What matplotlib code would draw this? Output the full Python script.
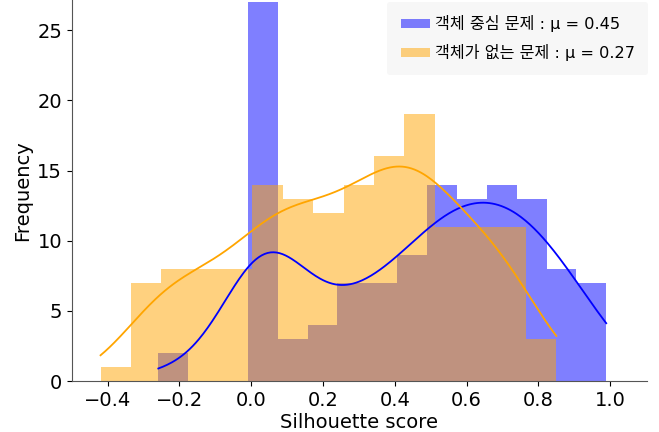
import matplotlib
matplotlib.use('Agg')
import matplotlib.pyplot as plt
import numpy as np

plt.rcParams['font.family'] = ['DejaVu Sans', 'Noto Sans CJK KR']

# histogram of silhouette scores, 15 bins each
obj_lo, obj_hi = -0.259, 0.989
obj_counts = [2, 0, 0, 27, 3, 4, 7, 7, 9, 14, 13, 14, 13, 8, 7]
none_lo, none_hi = -0.420, 0.850
none_counts = [1, 7, 8, 8, 8, 14, 13, 12, 14, 16, 19, 11, 11, 11, 3]

labels = ['객체 중심 문제 : μ = 0.45', '객체가 없는 문제 : μ = 0.27']
colors = ['blue', 'orange']


def kde_curve(lo, hi, counts, adjust=1.0):
    counts = np.asarray(counts)
    edges = np.linspace(lo, hi, len(counts) + 1)
    centers = (edges[:-1] + edges[1:]) / 2
    samples = np.repeat(centers, counts)
    n = len(samples)
    bw = adjust * samples.std(ddof=1) * n ** (-1 / 5)
    xs = np.linspace(lo, hi, 300)
    dens = np.exp(-0.5 * ((xs[:, None] - samples[None, :]) / bw) ** 2).sum(axis=1)
    dens /= n * bw * np.sqrt(2 * np.pi)
    return xs, dens * n * (edges[1] - edges[0])


fig = plt.figure(figsize=(6.59, 4.32), dpi=100)
ax = fig.add_axes([0.109, 0.118, 0.873, 0.882])

for (lo, hi, counts), c, lab in zip([(obj_lo, obj_hi, obj_counts), (none_lo, none_hi, none_counts)],
                                     colors, labels):
    edges = np.linspace(lo, hi, len(counts) + 1)
    ax.bar(edges[:-1], counts, width=np.diff(edges), align='edge',
           color=c, alpha=0.5, linewidth=0, label=lab)
    xs, ys = kde_curve(lo, hi, counts)
    ax.plot(xs, ys, color=c, linewidth=1.3)

ax.set_xlim(-0.50, 1.103)
ax.set_ylim(0, 27.15)
ax.set_xticks([-0.4, -0.2, 0.0, 0.2, 0.4, 0.6, 0.8, 1.0])
ax.set_yticks([0, 5, 10, 15, 20, 25])
ax.tick_params(labelsize=14)
ax.set_xlabel('Silhouette score', fontsize=14, labelpad=2)
ax.set_ylabel('Frequency', fontsize=14)
for side in ['top', 'right']:
    ax.spines[side].set_visible(False)
for side in ['left', 'bottom']:
    ax.spines[side].set_color('#555555')

leg = ax.legend(loc='upper right', bbox_to_anchor=(1.002, 0.996),
                prop={'family': ['DejaVu Sans', 'Noto Sans CJK KR'], 'size': 11.6},
                facecolor='#f7f7f7', edgecolor='none', framealpha=1,
                handlelength=1.8, handleheight=0.55, handletextpad=0.3,
                borderpad=0.85, labelspacing=0.75, borderaxespad=0)

fig.savefig('out.png', dpi=100)
